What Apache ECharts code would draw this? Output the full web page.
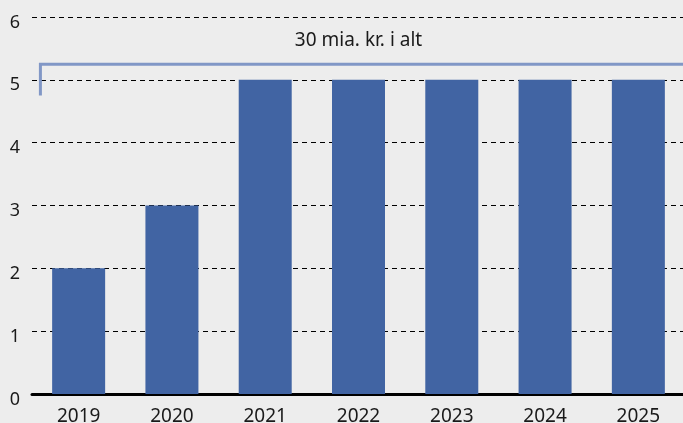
<!DOCTYPE html>
<html><head><meta charset="utf-8">
<script src="https://cdn.jsdelivr.net/npm/echarts@6/dist/echarts.min.js"></script>
<style>html,body{margin:0;padding:0;background:#ededed}#c{width:683px;height:423px}</style>
</head><body><div id="c"></div>
<script>
const categories = ['2019','2020','2021','2022','2023','2024','2025'];
const values = [2, 3, 5, 5, 5, 5, 5];
const yTicks = [0, 1, 2, 3, 4, 5, 6];
const bracketLabel = '30 mia. kr. i alt';
const bracketTop = 5.25;
const bracketBottom = 4.75;
const labelValue = 5.63;

const chart = echarts.init(document.getElementById('c'));
chart.setOption({
  backgroundColor: '#ededed',
  animation: false,
  grid: { left: 32, right: -2, top: 17, bottom: 29, containLabel: false, outerBoundsMode: 'none' },
  xAxis: {
    type: 'category', data: categories,
    axisLine: { lineStyle: { color: '#000', width: 3 } },
    axisTick: { show: false },
    axisLabel: { color: '#1a1a1a', fontSize: 19, fontFamily: 'Noto Sans', margin: 13 }
  },
  yAxis: {
    type: 'value', min: yTicks[0], max: yTicks[yTicks.length-1], interval: 1,
    axisLine: { show: false }, axisTick: { show: false },
    axisLabel: { color: '#1a1a1a', fontSize: 18, fontFamily: 'Noto Sans', margin: 17, align: 'center', verticalAlign: 'top', lineHeight: 11 },
    splitLine: { lineStyle: { color: '#000', type: [5, 4], width: 1 } }
  },
  series: [
    { type: 'bar', data: values, barWidth: 53, itemStyle: { color: '#4164a3' }, z: 2 },
    {
      type: 'custom', z: 3,
      data: [[0, bracketTop]],
      renderItem: function (params, api) {
        const bw = api.size([1, 0])[0];
        const pStart = api.coord([0, bracketTop]);
        const pEnd = api.coord([categories.length - 1, bracketTop]);
        const pBot = api.coord([0, bracketBottom]);
        const x0 = pStart[0] - bw * 0.41;
        const x1 = pEnd[0] + bw * 0.5 + 5;
        const pLab = api.coord([(categories.length - 1) / 2, labelValue]);
        return { type: 'group', children: [
          { type: 'polyline', shape: { points: [[x0, pBot[1]], [x0, pStart[1]], [x1, pStart[1]]] },
            style: { stroke: '#8197c6', lineWidth: 3, fill: null } },
          { type: 'text', x: pLab[0], y: pLab[1],
            style: { text: bracketLabel, fill: '#1a1a1a', fontSize: 19, fontFamily: 'Noto Sans', align: 'center', verticalAlign: 'middle' } }
        ]};
      }
    }
  ]
});
</script></body></html>
